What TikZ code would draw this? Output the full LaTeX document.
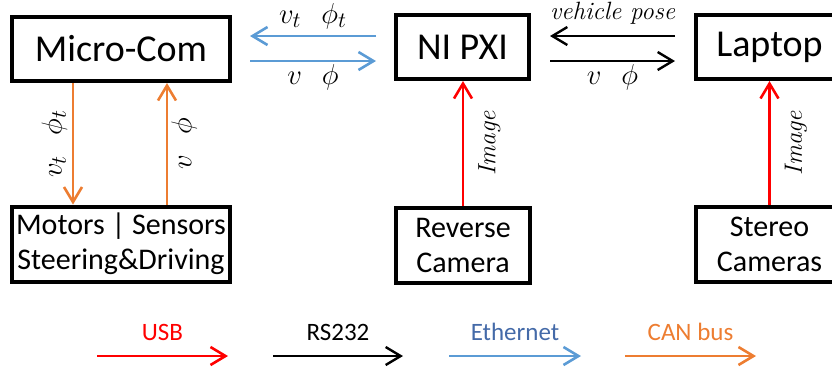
\documentclass[tikz,border=0pt]{standalone}
\usepackage{amssymb}
\usepackage{amsmath}
\usepackage{fontspec}
\newfontfamily\calibri{Carlito}
\usetikzlibrary{arrows.meta}
\definecolor{usbred}{RGB}{255,0,0}
\definecolor{ethblue}{RGB}{91,155,213}
\definecolor{ethtext}{RGB}{68,106,168}
\definecolor{canorange}{RGB}{237,125,49}

\begin{document}
\begin{tikzpicture}[x=0.5pt, y=-0.5pt,
        bigbox/.style={draw, line width=2pt, inner sep=0pt, minimum height=32pt,
            font=\calibri\fontsize{19}{23}\selectfont},
        smallbox/.style={draw, line width=2pt, inner sep=0pt, align=center, minimum height=37.5pt,
            font=\calibri\fontsize{15}{17.5}\selectfont},
        link/.style={line width=1.3pt, -{Straight Barb[length=7.5pt,width=9pt]}},
        usb/.style={link, usbred},
        rs/.style={link, black, line width=1.2pt},
        eth/.style={link, ethblue},
        can/.style={link, canorange},
        lbl/.style={inner sep=0pt, text=black, font=\fontsize{15}{18}\selectfont},
        tag/.style={inner sep=0pt, text=black, font=\itshape\fontsize{12.5}{15}\selectfont},
        legend/.style={inner sep=0pt, font=\calibri\fontsize{12.5}{15}\selectfont}]
    \useasboundingbox (0,0) rectangle (832,372);
    \clip (0,0) rectangle (832,372);

    % boxes
    \node[bigbox, minimum width=109pt] (micro) at (121,49) {Micro-Com};
    \node[bigbox, minimum width=66.5pt] (pxi) at (462.5,47) {NI PXI};
    \node[bigbox, minimum width=73.5pt] (laptop) at (769.5,47) {Laptop};
    \node[smallbox, minimum width=109pt] (motors) at (121,244) {Motors | Sensors\\Steering\&Driving};
    \node[smallbox, minimum width=67pt] (revcam) at (463,245.5) {Reverse\\Camera};
    \node[smallbox, minimum width=73.5pt] (stereo) at (769.5,244.5) {Stereo\\Cameras};

    % ethernet between Micro-Com and NI PXI
    \coordinate (ethtop) at ([yshift=5.5pt]pxi.west);
    \coordinate (ethbot) at ([yshift=-7pt]pxi.west);
    \draw[eth, shorten >=9pt, shorten <=9pt] (ethtop) -- (ethtop -| micro.east)
        node[lbl, midway, above=3pt] {$v_t\enskip\,\phi_t$};
    \draw[eth, shorten >=9pt, shorten <=9pt] (ethbot -| micro.east) -- (ethbot)
        node[lbl, midway, below=1pt] {$v\enskip\,\phi$};

    % RS232 between NI PXI and Laptop
    \coordinate (rstop) at ([yshift=5.5pt]laptop.west);
    \coordinate (rsbot) at ([yshift=-7pt]laptop.west);
    \draw[rs, shorten >=9.5pt, shorten <=9.5pt] (rstop) -- (rstop -| pxi.east)
        node[tag, midway, above=5pt] {vehicle pose};
    \draw[rs, shorten >=9.5pt, shorten <=9.5pt] (rsbot -| pxi.east) -- (rsbot)
        node[lbl, midway, below=1pt] {$v\enskip\,\phi$};

    % CAN bus
    \coordinate (candown) at ([xshift=-24pt]micro.south);
    \coordinate (canup) at ([xshift=23pt]micro.south);
    \draw[can] (candown) -- (candown |- motors.north)
        node[lbl, midway, xshift=-2.3pt, rotate=90, anchor=south] {$v_t\enskip\,\phi_t$};
    \draw[can] (canup |- motors.north) -- (canup)
        node[lbl, midway, xshift=1.5pt, rotate=90, anchor=north] {$v\enskip\,\phi$};

    % USB cameras
    \draw[usb] (revcam.north) -- (revcam.north |- pxi.south)
        node[tag, midway, xshift=7pt, rotate=90, anchor=north] {Image};
    \draw[usb] (stereo.north) -- (stereo.north |- laptop.south)
        node[tag, midway, xshift=7pt, rotate=90, anchor=north] {Image};

    % legend
    \coordinate (usbA) at (97,356);  \coordinate (usbB) at (228,356);
    \coordinate (rsA) at (273,356);  \coordinate (rsB) at (403,356);
    \coordinate (ethA) at (449,356); \coordinate (ethB) at (581,356);
    \coordinate (canA) at (625,356); \coordinate (canB) at (756,356);
    \draw[usb] (usbA) -- (usbB) node[legend, midway, above=7pt, usbred] {USB};
    \draw[rs] (rsA) -- (rsB) node[legend, midway, above=7pt] {RS232};
    \draw[eth] (ethA) -- (ethB) node[legend, midway, above=7pt, ethtext] {Ethernet};
    \draw[can] (canA) -- (canB) node[legend, midway, above=7pt, canorange] {CAN bus};
\end{tikzpicture}
\end{document}
